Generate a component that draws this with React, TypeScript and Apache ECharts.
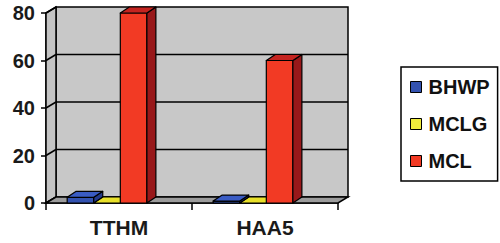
import React, { useEffect, useRef } from "react";
import * as echarts from "echarts";

const categories = ["TTHM", "HAA5"];
const seriesNames = ["BHWP", "MCLG", "MCL"];
const bhwpValues = [2.4, 0.8];
const mclgValues = [0, 0];
const mclValues = [80, 60];
const yMin = 0;
const yMax = 80;
const yInterval = 20;
const gridValues = [0, 20, 40, 60, 80];

const palette = [
  { front: "#3352b0", side: "#23398a", top: "#3a5cc4", legend: "#3352b0" },
  { front: "#e8e02a", side: "#b8b020", top: "#ece43a", legend: "#f0ec3c" },
  { front: "#f23a24", side: "#98181a", top: "#c42420", legend: "#f23a24" },
];

const FONT = "'Liberation Sans', Arial, sans-serif";
const WALL_DX = 10;
const WALL_DY = -6;
const BAR_DX = 9;
const BAR_DY = -6;

function barRenderer(idx: number) {
  return (params: any, api: any) => {
    const cat = api.value(0);
    const v = api.value(1);
    const p0 = api.coord([cat, 0]);
    const p1 = api.coord([cat, v]);
    const band = api.size([1, 0])[0];
    const w = band * 0.182;
    const x0 = p0[0] - band * 0.355 + idx * w;
    const y0 = p0[1];
    const y1 = p1[1];
    const c = palette[idx];
    const stroke = { stroke: "#000", lineWidth: 1.2, lineJoin: "round" };
    const children: any[] = [];
    if (y0 - y1 > 0.5) {
      children.push({
        type: "rect",
        shape: { x: x0, y: y1, width: w, height: y0 - y1 },
        style: { fill: c.front, ...stroke },
      });
      children.push({
        type: "polygon",
        shape: {
          points: [
            [x0 + w, y1],
            [x0 + w + BAR_DX, y1 + BAR_DY],
            [x0 + w + BAR_DX, y0 + BAR_DY],
            [x0 + w, y0],
          ],
        },
        style: { fill: c.side, ...stroke },
      });
    }
    children.push({
      type: "polygon",
      shape: {
        points: [
          [x0, y1],
          [x0 + BAR_DX, y1 + BAR_DY],
          [x0 + w + BAR_DX, y1 + BAR_DY],
          [x0 + w, y1],
        ],
      },
      style: { fill: idx === 1 ? c.front : c.top, ...stroke },
    });
    return { type: "group", children };
  };
}

function wallRenderer(params: any, api: any) {
  const cs = params.coordSys;
  const x = cs.x;
  const y = cs.y;
  const w = cs.width;
  const h = cs.height;
  const children: any[] = [];
  const bottom = api.coord([0, 0])[1];
  children.push({
    type: "rect",
    shape: { x: x + WALL_DX, y: y + WALL_DY, width: w, height: h },
    style: { fill: "#c8c8c8", stroke: "#000", lineWidth: 1.5 },
  });
  children.push({
    type: "polygon",
    shape: {
      points: [
        [x, y + h],
        [x, y],
        [x + WALL_DX, y + WALL_DY],
        [x + WALL_DX, y + h + WALL_DY],
      ],
    },
    style: { fill: "#c4c4c4", stroke: "#000", lineWidth: 1.5 },
  });
  gridValues.forEach((v) => {
    const yy = api.coord([0, v])[1];
    if (v > 0 && v < yMax) {
      children.push({
        type: "line",
        shape: { x1: x + WALL_DX, y1: yy + WALL_DY, x2: x + w + WALL_DX, y2: yy + WALL_DY },
        style: { stroke: "#000", lineWidth: 1.5 },
      });
    }
    children.push({
      type: "line",
      shape: { x1: x, y1: yy, x2: x + WALL_DX, y2: yy + WALL_DY },
      style: { stroke: "#000", lineWidth: 1.5 },
    });
  });
  children.push({
    type: "polygon",
    shape: {
      points: [
        [x, bottom],
        [x + w, bottom],
        [x + w + WALL_DX, bottom + WALL_DY],
        [x + WALL_DX, bottom + WALL_DY],
      ],
    },
    style: { fill: "#9c9c9c", stroke: "#000", lineWidth: 1.5 },
  });
  return { type: "group", children };
}

export default function App() {
  const ref = useRef<HTMLDivElement>(null);
  useEffect(() => {
    if (!ref.current) return;
    const chart = echarts.init(ref.current, null, { renderer: "svg" });
    const valueLists = [bhwpValues, mclgValues, mclValues];
    chart.setOption({
      animation: false,
      backgroundColor: "#ffffff",
      grid: { left: 46, top: 13, width: 292, height: 190, containLabel: false },
      xAxis: {
        type: "category",
        data: categories,
        boundaryGap: true,
        axisLine: { show: true, lineStyle: { color: "#000", width: 1.5 } },
        axisTick: { show: true, length: 7, lineStyle: { color: "#000", width: 1.5 } },
        axisLabel: {
          color: "#1a1a1a",
          fontFamily: FONT,
          fontWeight: "bold",
          fontSize: 21,
          margin: 14,
        },
        splitLine: { show: false },
      },
      yAxis: {
        type: "value",
        min: yMin,
        max: yMax,
        interval: yInterval,
        axisLine: { show: true, lineStyle: { color: "#000", width: 1.5 } },
        axisTick: { show: true, length: 5, lineStyle: { color: "#000", width: 1.5 } },
        axisLabel: {
          color: "#1a1a1a",
          fontFamily: FONT,
          fontWeight: "bold",
          fontSize: 20,
          margin: 11,
        },
        splitLine: { show: false },
      },
      legend: {
        orient: "vertical",
        left: 401,
        top: 67,
        padding: [10, 8, 10, 9],
        itemGap: 17,
        itemWidth: 11,
        itemHeight: 11,
        borderColor: "#000",
        borderWidth: 1.5,
        textStyle: {
          color: "#111",
          fontFamily: FONT,
          fontWeight: "bold",
          fontSize: 20,
          lineHeight: 20,
          padding: [0, 0, 0, 2],
        },
        data: seriesNames.map((n, i) => ({
          name: n,
          icon: "rect",
          itemStyle: { color: palette[i].legend, borderColor: "#000", borderWidth: 1 },
        })),
      },
      series: [
        {
          type: "custom",
          name: "walls",
          silent: true,
          z: 1,
          data: [[0, 0]],
          renderItem: wallRenderer,
        },
        ...seriesNames.map((n, i) => ({
          type: "custom",
          name: n,
          z: i === 1 ? 2 : 3,
          itemStyle: { color: palette[i].legend },
          data: categories.map((c, k) => [k, valueLists[i][k]]),
          renderItem: barRenderer(i),
        })),
      ],
    });
    return () => chart.dispose();
  }, []);
  return (
    <div
      ref={ref}
      style={{ position: "fixed", left: 0, top: 0, width: 500, height: 243 }}
    />
  );
}
